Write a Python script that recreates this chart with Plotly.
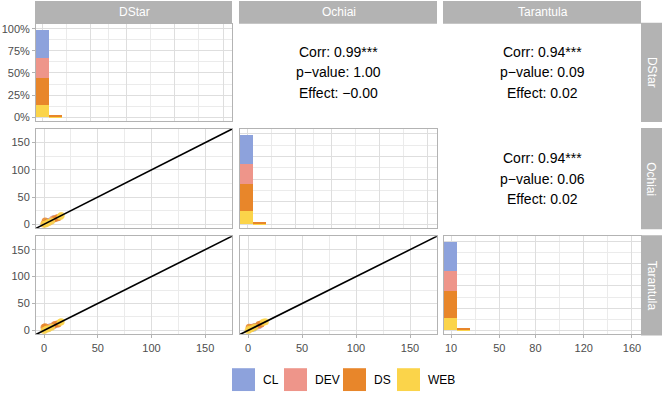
import plotly.graph_objects as go
from plotly.subplots import make_subplots

W, H = 664, 398

metrics = ['DStar', 'Ochiai', 'Tarantula']
groups = ['CL', 'DEV', 'DS', 'WEB']
group_colors = ['#8DA2DC', '#EE958A', '#E8862A', '#FBD44A']

# diagonal histograms: share of projects (%) in the two non-empty bins
hist_bins = [9.65, 20.35]
hist_cl = [32.2, 0.0]
hist_dev = [22.3, 0.0]
hist_ds = [30.0, 1.3]
hist_web = [14.4, 1.2]

# per-project scores (lower panels)
cl_dstar = [2, 4, 6, 9]
cl_ochiai = [2, 5, 6, 10]
cl_tarantula = [3, 4, 7, 9]
dev_dstar = [1, 5, 8, 12]
dev_ochiai = [1, 4, 9, 12]
dev_tarantula = [2, 6, 8, 12]
ds_dstar = [0, 3, 10, 13, 1]
ds_ochiai = [1, 3, 10, 12, 6]
ds_tarantula = [6, 4, 11, 12, 7]
web_dstar = [0, 2, 7, 15, 16, 4]
web_ochiai = [0, 1, 6, 14, 16, 3]
web_tarantula = [0, 2, 6, 15, 16, 3]

# upper panels: (row, col) -> text
corr_cells = [(1, 2), (1, 3), (2, 3)]
corr_vals = ['0.99***', '0.94***', '0.94***']
p_vals = ['1.00', '0.09', '0.06']
effect_vals = ['\u22120.00', '0.02', '0.02']

scores = {
    'CL': [cl_dstar, cl_ochiai, cl_tarantula],
    'DEV': [dev_dstar, dev_ochiai, dev_tarantula],
    'DS': [ds_dstar, ds_ochiai, ds_tarantula],
    'WEB': [web_dstar, web_ochiai, web_tarantula],
}
hists = {'CL': hist_cl, 'DEV': hist_dev, 'DS': hist_ds, 'WEB': hist_web}

FONT = 'Liberation Sans, Arial, sans-serif'
GRID = '#DEDEDE'
MINOR = '#EBEBEB'
BORDER = '#B3B3B3'
STRIP = '#B3B3B3'

col_px = [(36, 232), (240, 437), (444, 641)]
row_px = [(23, 121), (129, 229), (237, 336)]


def fx(p):
    return p / W


def fy(p):
    return 1 - p / H


fig = make_subplots(rows=3, cols=3)

for r in range(1, 4):
    for c in range(1, 4):
        fig.update_xaxes(domain=[fx(col_px[c - 1][0]), fx(col_px[c - 1][1])], row=r, col=c)
        fig.update_yaxes(domain=[fy(row_px[r - 1][1]), fy(row_px[r - 1][0])], row=r, col=c)

# diagonal: stacked histograms (bottom to top: WEB, DS, DEV, CL)
for i in range(3):
    for g in ['WEB', 'DS', 'DEV', 'CL']:
        fig.add_trace(go.Bar(
            x=hist_bins, y=hists[g], width=10.7,
            marker=dict(color=group_colors[groups.index(g)], line=dict(width=0)),
            showlegend=False, hoverinfo='skip'), row=i + 1, col=i + 1)

# lower: scatter + identity line
for (r, c) in [(2, 1), (3, 1), (3, 2)]:
    for g in groups:
        fig.add_trace(go.Scatter(
            x=scores[g][c - 1], y=scores[g][r - 1], mode='markers',
            marker=dict(color=group_colors[groups.index(g)], size=7, opacity=0.85),
            showlegend=False, hoverinfo='skip'), row=r, col=c)
    fig.add_trace(go.Scatter(
        x=[-10, 180], y=[-10, 180], mode='lines',
        line=dict(color='black', width=1.6),
        showlegend=False, hoverinfo='skip'), row=r, col=c)

base_axis = dict(showline=True, mirror=True, linecolor=BORDER, linewidth=1,
                 gridcolor=GRID, gridwidth=1, zeroline=False,
                 tickfont=dict(family=FONT, size=11, color='#4D4D4D'),
                 ticks='', showticklabels=False)

diag_x = dict(range=[4.2, 167.5], tickmode='array', tickvals=[10, 50, 80, 120, 160],
              minor=dict(tickvals=[30, 65, 100, 140], showgrid=True, gridcolor=MINOR, gridwidth=0.5))
diag_y = dict(range=[-4.3, 105.5], tickmode='array', tickvals=[0, 25, 50, 75, 100],
              ticktext=['0%', '25%', '50%', '75%', '100%'],
              minor=dict(tickvals=[12.5, 37.5, 62.5, 87.5], showgrid=True, gridcolor=MINOR, gridwidth=0.5))
sc_ax = dict(range=[-7.5, 175], tickmode='array', tickvals=[0, 50, 100, 150],
             minor=dict(tickvals=[25, 75, 125], showgrid=True, gridcolor=MINOR, gridwidth=0.5))
txt_x = dict(range=[-0.92, 7.19], dtick=2, tick0=0,
             minor=dict(dtick=1, showgrid=True, gridcolor=MINOR, gridwidth=0.5))
txt_y = dict(range=[-0.6, 7.6], dtick=2, tick0=0,
             minor=dict(dtick=1, showgrid=True, gridcolor=MINOR, gridwidth=0.5))

for r in range(1, 4):
    for c in range(1, 4):
        if r == c:
            xa, ya = dict(diag_x), dict(diag_y)
        elif r > c:
            xa, ya = dict(sc_ax), dict(sc_ax)
        else:
            xa, ya = dict(txt_x), dict(txt_y)
        xa = {**base_axis, **xa}
        ya = {**base_axis, **ya}
        if r == 3:
            xa.update(showticklabels=True, ticks='outside', ticklen=3, tickcolor=BORDER)
        if c == 1:
            ya.update(showticklabels=True, ticks='outside', ticklen=3, tickcolor=BORDER)
        fig.update_xaxes(row=r, col=c, **xa)
        fig.update_yaxes(row=r, col=c, **ya)

shapes = []
annotations = []

# strips
for i, m in enumerate(metrics):
    x0, x1 = col_px[i]
    shapes.append(dict(type='rect', xref='paper', yref='paper', x0=fx(x0 - 1), x1=fx(x1),
                       y0=fy(23), y1=fy(0), fillcolor=STRIP, line=dict(width=0), layer='below'))
    annotations.append(dict(text=m, xref='paper', yref='paper', x=fx((x0 + x1) / 2), y=fy(11.5),
                            showarrow=False, font=dict(family=FONT, size=12, color='white'),
                            xanchor='center', yanchor='middle'))
    y0, y1 = row_px[i]
    shapes.append(dict(type='rect', xref='paper', yref='paper', x0=fx(641), x1=fx(662),
                       y0=fy(y1 + 1), y1=fy(y0 - 1), fillcolor=STRIP, line=dict(width=0), layer='below'))
    annotations.append(dict(text=m, xref='paper', yref='paper', x=fx(651.5), y=fy((y0 + y1) / 2),
                            showarrow=False, textangle=90,
                            font=dict(family=FONT, size=12, color='white'),
                            xanchor='center', yanchor='middle'))

# correlation texts
for (r, c), cv, pv, ev in zip(corr_cells, corr_vals, p_vals, effect_vals):
    x0, x1 = col_px[c - 1]
    y0, y1 = row_px[r - 1]
    yc = (y0 + y1) / 2
    for k, line in enumerate([f'Corr: {cv}', f'p\u2212value: {pv}', f'Effect: {ev}']):
        annotations.append(dict(text=line, xref='paper', yref='paper',
                                x=fx((x0 + x1) / 2), y=fy(yc + (k - 1) * 20.5),
                                showarrow=False, xanchor='center', yanchor='middle',
                                font=dict(family=FONT, size=14, color='black')))

# legend
key_x = [232, 284, 343, 397]
for g, col, kx in zip(groups, group_colors, key_x):
    shapes.append(dict(type='rect', xref='paper', yref='paper', x0=fx(kx), x1=fx(kx + 23),
                       y0=fy(393), y1=fy(370), fillcolor=col, line=dict(width=0)))
    annotations.append(dict(text=g, xref='paper', yref='paper', x=fx(kx + 29), y=fy(381.5),
                            showarrow=False, xanchor='left', yanchor='middle',
                            font=dict(family=FONT, size=12, color='black')))

fig.update_layout(
    width=W, height=H,
    margin=dict(l=0, r=0, t=0, b=0),
    paper_bgcolor='white', plot_bgcolor='white',
    barmode='stack', bargap=0,
    showlegend=False,
    shapes=shapes, annotations=annotations,
    font=dict(family=FONT),
)

fig.write_html("out.html", config={'displayModeBar': False},
               post_script="document.body.style.margin='0';")
